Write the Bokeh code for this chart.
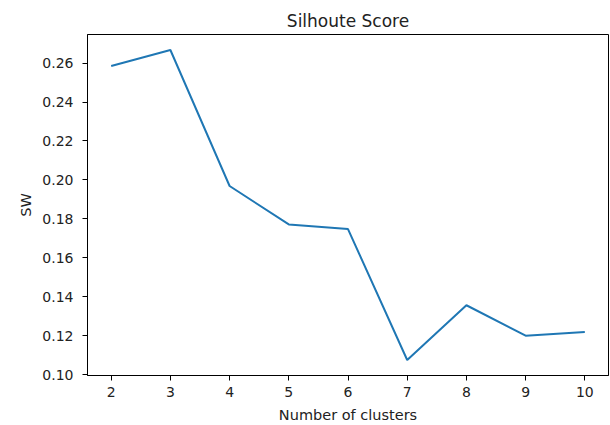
from bokeh.plotting import figure
from bokeh.embed import file_html
from bokeh.resources import INLINE
from bokeh.models import Range1d, FixedTicker, CustomJSTickFormatter

clusters = [2, 3, 4, 5, 6, 7, 8, 9, 10]
sw_scores = [0.2585, 0.2667, 0.1969, 0.1772, 0.1748, 0.1076, 0.1357, 0.1201, 0.1220]
x_ticks = [2, 3, 4, 5, 6, 7, 8, 9, 10]
y_ticks = [0.10, 0.12, 0.14, 0.16, 0.18, 0.20, 0.22, 0.24, 0.26]

FONT = "DejaVu Sans"
TXT = "#222222"

xmin, xmax = min(clusters), max(clusters)
ymin, ymax = min(sw_scores), max(sw_scores)
xpad = (xmax - xmin) * 0.05
ypad = (ymax - ymin) * 0.05

p = figure(width=610, height=425, output_backend="svg", toolbar_location=None,
           x_range=Range1d(xmin - xpad, xmax + xpad),
           y_range=Range1d(ymin - ypad, ymax + ypad),
           title="Silhoute Score",
           min_border_left=87, min_border_right=2, min_border_top=34, min_border_bottom=49)

p.line(clusters, sw_scores, line_color="#1f77b4", line_width=2)

p.title.align = "center"
p.title.text_font = FONT
p.title.text_font_size = "17px"
p.title.text_font_style = "normal"
p.title.text_color = TXT
p.title.standoff = 8

p.grid.visible = False
p.outline_line_color = "black"
p.outline_line_width = 1
p.outline_line_alpha = 1
p.background_fill_color = "white"
p.border_fill_color = "white"

p.xaxis.ticker = FixedTicker(ticks=x_ticks)
p.yaxis.ticker = FixedTicker(ticks=y_ticks)
p.yaxis.formatter = CustomJSTickFormatter(code="return tick.toFixed(2);")

for ax in (p.xaxis[0], p.yaxis[0]):
    ax.major_label_text_font = FONT
    ax.major_label_text_font_size = "14px"
    ax.major_label_text_color = TXT
    ax.axis_label_text_font = FONT
    ax.axis_label_text_font_size = "14.5px"
    ax.axis_label_text_font_style = "normal"
    ax.axis_label_text_color = TXT
    ax.major_tick_out = 5
    ax.major_tick_in = 0
    ax.minor_tick_out = 0
    ax.minor_tick_in = 0
    ax.axis_line_color = "black"
    ax.major_tick_line_color = "black"

p.xaxis.axis_label = "Number of clusters"
p.yaxis.axis_label = "SW"
p.xaxis.major_label_standoff = 6
p.xaxis.axis_label_standoff = 7
p.yaxis.major_label_standoff = 9
p.yaxis.axis_label_standoff = 5

open("out.html", "w").write(file_html(p, INLINE))
